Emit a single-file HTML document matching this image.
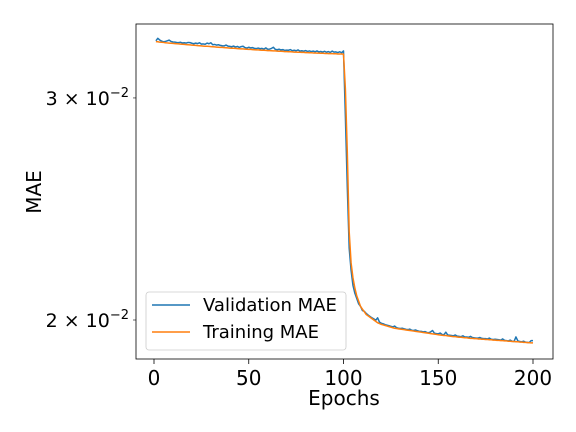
<!DOCTYPE html>
<html><head><meta charset="utf-8"><style>
html,body{margin:0;padding:0;background:#fff;}
svg{display:block;font-family:"DejaVu Sans","Liberation Sans",sans-serif;}
</style></head><body>
<svg id="chart" width="576" height="432"></svg>
<script>
const epochs = Array.from({length:200},(_,i)=>i+1);
const trainingMAE = [
332.5,332.4,332.2,332.1,332.0,331.8,331.7,331.6,331.5,331.4,
331.3,331.2,331.1,331.0,330.9,330.8,330.7,330.6,330.5,330.4,
330.3,330.2,330.1,330.0,329.9,329.8,329.7,329.7,329.6,329.5,
329.4,329.3,329.2,329.1,329.0,329.0,328.9,328.8,328.7,328.6,
328.5,328.5,328.4,328.3,328.2,328.1,328.1,328.0,327.9,327.8,
327.8,327.7,327.6,327.5,327.5,327.4,327.3,327.3,327.2,327.1,
327.1,327.0,326.9,326.9,326.8,326.7,326.7,326.6,326.5,326.5,
326.4,326.4,326.3,326.2,326.2,326.1,326.1,326.0,326.0,325.9,
325.9,325.8,325.8,325.7,325.7,325.6,325.6,325.5,325.5,325.4,
325.4,325.3,325.3,325.3,325.2,325.2,325.1,325.1,325.1,325.0,
305,272,235,222,216,212,209,207,205,204,
203,202,201.5,201,200.5,200,199.5,199,198.7,198.4,
198.2,198.0,197.8,197.6,197.4,197.2,197.0,196.9,196.8,196.7,
196.6,196.5,196.4,196.3,196.2,196.1,196.0,195.9,195.8,195.7,
195.6,195.5,195.4,195.3,195.2,195.1,195.0,194.9,194.8,194.7,
194.6,194.5,194.4,194.4,194.3,194.2,194.1,194.0,194.0,193.9,
193.8,193.8,193.7,193.6,193.6,193.5,193.4,193.4,193.3,193.3,
193.2,193.2,193.1,193.1,193.0,193.0,192.9,192.9,192.8,192.8,
192.7,192.7,192.6,192.6,192.5,192.5,192.4,192.4,192.3,192.3,
192.2,192.2,192.1,192.1,192.0,192.0,191.9,191.9,191.8,191.8];
const validationMAE = [
333.0,334.5,333.5,332.8,332.4,332.6,333.0,333.4,332.6,332.3,
332.2,332.0,331.9,332.1,331.7,331.8,331.6,332.0,331.9,331.5,
331.2,331.6,331.3,331.8,331.0,331.1,330.9,331.6,331.2,331.8,
330.6,330.8,330.4,330.6,330.2,330.0,329.9,330.4,329.8,329.6,
329.4,329.8,329.2,329.6,329.0,329.5,329.7,328.9,328.6,329.1,
328.7,328.9,328.4,328.3,328.6,328.2,328.4,328.0,328.7,327.9,
328.0,328.4,329.1,327.8,327.6,327.9,327.5,327.7,327.2,327.4,
327.3,327.7,327.0,327.3,327.0,327.5,326.8,327.0,326.7,327.1,
326.6,326.9,326.5,326.8,326.4,326.9,326.3,326.6,326.2,326.7,
326.1,326.5,326.0,326.8,326.2,326.3,325.9,326.4,325.8,326.9,
290,255,228,219,213,210,208,206,205,203.5,
203.2,202.4,201.8,201.3,200.8,200.4,199.9,200.8,199.2,198.8,
198.6,198.3,198.1,197.9,197.7,197.5,197.8,197.2,197.0,196.9,
197.0,196.8,196.6,196.5,196.7,196.3,196.2,196.4,196.1,195.9,
195.9,195.7,195.8,195.5,195.4,195.7,196.2,195.2,195.1,195.0,
195.3,194.8,194.7,195.6,194.6,194.5,194.4,194.3,194.6,194.2,
194.1,194.0,194.3,193.9,193.9,193.8,194.1,193.7,193.6,193.5,
193.5,193.7,193.4,193.3,193.3,193.2,193.5,193.1,193.0,193.1,
193.0,192.9,192.8,193.2,192.7,192.6,192.5,192.8,192.4,192.3,
193.9,192.5,192.3,192.2,192.4,192.1,192.0,191.9,192.6,192.6];
const xTicks = [0,50,100,150,200];
const yTicks = [0.02,0.03];
const yTickLabels = ["2","3"];

const svg = document.getElementById('chart');
const NS = 'http://www.w3.org/2000/svg';
const L=136,R=553,T=24,B=359;
const xs = e => 154 + (e-0)*(533-154)/200;
const ys = v => 320 - Math.log10(v/0.02)*1261;
function mk(tag, attrs, parent){const el=document.createElementNS(NS,tag);for(const k in attrs)el.setAttribute(k,attrs[k]);(parent||svg).appendChild(el);return el;}

function series(vals, color, name){
  const d = vals.map((v,i)=>(i?'L':'M')+xs(epochs[i]).toFixed(2)+','+ys(v/10000).toFixed(2)).join(' ');
  const p = mk('path',{d:d,fill:'none',stroke:color,'stroke-width':1.5,'stroke-linejoin':'round'});
  
  
}
series(validationMAE,'#1f77b4','validation-mae-line');
series(trainingMAE,'#ff7f0e','training-mae-line');

const fr = mk('rect',{x:L,y:T,width:R-L,height:B-T,fill:'none',stroke:'#000','stroke-width':0.8});



xTicks.forEach(t=>{
  const x=xs(t);
  mk('line',{x1:x,x2:x,y1:B,y2:B+5,stroke:'#000','stroke-width':0.8});
  const tx=mk('text',{x:x,y:B+26,'font-size':20,'text-anchor':'middle',fill:'#000'});
  tx.textContent=t;
  
  
});
yTicks.forEach((t,i)=>{
  const y=ys(t);
  mk('line',{x1:L-3,x2:L,y1:y,y2:y,stroke:'#000','stroke-width':0.6});
  const tx=mk('text',{x:L-7,y:y+7,'font-size':19,'text-anchor':'end',fill:'#000'});
  tx.innerHTML=yTickLabels[i]+' × 10<tspan dy="-8" font-size="13">−2</tspan>';
  
  
});
</script>
<script>
const s2=document.getElementById('chart');
s2.insertAdjacentHTML('beforeend',
 '<text x="344" y="405" font-size="20" text-anchor="middle">Epochs</text>'+
 '<text transform="translate(41,192) rotate(-90)" font-size="20" text-anchor="middle">MAE</text>'+
 '<g>'+
 '<rect x="146" y="292" width="200" height="58" rx="3" fill="#fff" fill-opacity="0.8" stroke="#ccc" stroke-width="0.8"/>'+
 '<line x1="152" x2="190" y1="305" y2="305" stroke="#1f77b4" stroke-width="1.5"/>'+
 '<text x="203" y="311" font-size="18">Validation MAE</text>'+
 '<line x1="152" x2="190" y1="332" y2="332" stroke="#ff7f0e" stroke-width="1.5"/>'+
 '<text x="203" y="338" font-size="18">Training MAE</text>'+
 '</g>');
</script>
</body></html>
